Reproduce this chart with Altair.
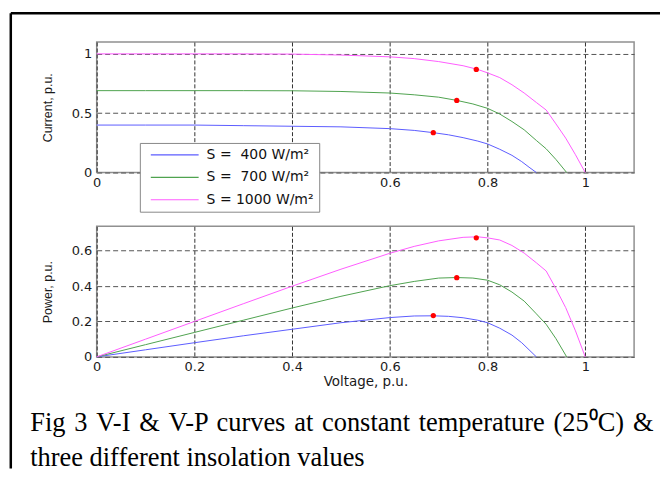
import altair as alt
import pandas as pd

# ---------------- data ----------------
series_names = ["S = \u00a0400 W/m\u00b2", "S = \u00a0700 W/m\u00b2", "S = 1000 W/m\u00b2"]
series_colors = ["#5c5cff", "#4fa34f", "#ff5cff"]

v_400 = [0, 0.1, 0.2, 0.3, 0.4, 0.5, 0.6, 0.65, 0.689, 0.72, 0.75, 0.78, 0.8, 0.825, 0.85, 0.87, 0.885, 0.9]
i_400 = [0.40, 0.40, 0.40, 0.395, 0.39, 0.385, 0.37, 0.355, 0.336, 0.318, 0.294, 0.265, 0.241, 0.196, 0.145, 0.092, 0.045, 0.0]
p_400 = [0, 0.04, 0.08, 0.119, 0.156, 0.193, 0.222, 0.231, 0.232, 0.229, 0.221, 0.207, 0.193, 0.162, 0.123, 0.08, 0.04, 0]

v_700 = [0, 0.1, 0.2, 0.3, 0.4, 0.5, 0.6, 0.65, 0.7, 0.737, 0.77, 0.8, 0.825, 0.85, 0.875, 0.9, 0.92, 0.94, 0.962]
i_700 = [0.69, 0.69, 0.69, 0.69, 0.689, 0.683, 0.67, 0.655, 0.635, 0.608, 0.578, 0.541, 0.493, 0.43, 0.36, 0.27, 0.2, 0.11, 0.0]
p_700 = [0, 0.069, 0.138, 0.207, 0.276, 0.342, 0.402, 0.426, 0.445, 0.448, 0.445, 0.433, 0.407, 0.366, 0.315, 0.243, 0.184, 0.103, 0]

v_1000 = [0, 0.1, 0.2, 0.3, 0.4, 0.5, 0.6, 0.65, 0.7, 0.75, 0.78, 0.8, 0.825, 0.85, 0.875, 0.9, 0.92, 0.94, 0.96, 0.98, 1.0]
i_1000 = [1.0, 1.0, 1.0, 1.0, 0.998, 0.99, 0.975, 0.96, 0.935, 0.9, 0.869, 0.84, 0.80, 0.74, 0.67, 0.59, 0.527, 0.41, 0.29, 0.15, 0.0]
p_1000 = [0, 0.1, 0.2, 0.3, 0.399, 0.495, 0.585, 0.624, 0.655, 0.675, 0.678, 0.672, 0.66, 0.629, 0.586, 0.531, 0.485, 0.385, 0.278, 0.147, 0]

mpp_v = [0.689, 0.737, 0.777]
mpp_i = [0.336, 0.608, 0.869]
mpp_p = [0.233, 0.447, 0.672]

x_ticks = [0, 0.2, 0.4, 0.6, 0.8, 1.0]
i_ticks = [0, 0.5, 1]
p_ticks = [0, 0.2, 0.4, 0.6]

caption_lines = [
    "Fig 3 V-I & V-P curves at constant temperature (25\u2070C) &",
    "three different insolation values",
]
# the printed first caption line is justified: widen its word gaps slightly
caption_first = caption_lines[0].replace(" ", " \u200a")

# ---------------- tables ----------------
rows = []
for name, vs, iss, ps in zip(series_names, [v_400, v_700, v_1000],
                             [i_400, i_700, i_1000], [p_400, p_700, p_1000]):
    for k, (v, i, p) in enumerate(zip(vs, iss, ps)):
        rows.append({"S": name, "V": v, "I": i, "P": p, "k": k})
df = pd.DataFrame(rows)
mpp = pd.DataFrame({"S": series_names, "V": mpp_v, "I": mpp_i, "P": mpp_p})

FONT = "DejaVu Sans"
TFONT = "Liberation Sans"
W, H = 539.3, 131

x_scale = alt.Scale(domain=[0, 1.1], nice=False, zero=False)


def x_axis(title):
    kw = dict(values=x_ticks, format="~g", grid=True, gridColor="#333333", gridDash=[4, 2],
              labelFlush=False, labelPadding=4, ticks=False, domain=False,
              labelFont=FONT, labelFontSize=13, labelColor="#1a1a1a")
    if title:
        kw.update(title=title, titleFont=FONT, titleFontSize=13.5, titleFontWeight="normal",
                  titleColor="#1a1a1a", titleX=W / 2, titleY=25, titleBaseline="middle",
                  titleAlign="center")
    else:
        kw.update(title=None)
    return alt.Axis(**kw)


def y_axis(values, title):
    return alt.Axis(values=values, format="~g", grid=True, gridColor="#555555", gridDash=[5, 3],
                    labelFlush=False, labelPadding=5, ticks=False, domain=False,
                    labelFont=FONT, labelFontSize=13, labelColor="#1a1a1a",
                    title=title, titleFont=TFONT, titleFontSize=12.5, titleFontWeight="normal",
                    titleColor="#1a1a1a", titleX=-49.5, titleY=H / 2, titleAngle=-90,
                    titleBaseline="middle", titleAlign="center")


color_scale = alt.Scale(domain=series_names, range=series_colors)
legend = alt.Legend(title=None, orient="none", legendX=43.3, legendY=101.3,
                    symbolType="stroke", symbolSize=2304, symbolStrokeWidth=1.2,
                    clipHeight=14, rowPadding=8.5, padding=5, symbolOffset=5,
                    labelOffset=7, labelFont=FONT, labelFontSize=14, labelColor="#111111",
                    labelExpr="datum.label + '\u00a0'",
                    fillColor="white", strokeColor="#888888", cornerRadius=0, labelLimit=300)

xa_top = x_axis(None)
ya_top = y_axis(i_ticks, "Current, p.u.")
xa_bot = x_axis("Voltage, p.u.")
ya_bot = y_axis(p_ticks, "Power, p.u.")
i_scale = alt.Scale(domain=[0, 1.1], nice=False, zero=False)
p_scale = alt.Scale(domain=[0, 0.737], nice=False, zero=False)

# ---------------- top panel: V-I ----------------
lines_top = alt.Chart(df).mark_line(strokeWidth=1).encode(
    x=alt.X("V:Q", scale=x_scale, axis=xa_top),
    y=alt.Y("I:Q", scale=i_scale, axis=ya_top),
    color=alt.Color("S:N", scale=color_scale, sort=series_names, legend=legend),
    order="k:Q",
)
dots_top = alt.Chart(mpp).mark_circle(color="#ff0000", size=28, opacity=1).encode(
    x=alt.X("V:Q", scale=x_scale, axis=xa_top),
    y=alt.Y("I:Q", scale=i_scale, axis=ya_top),
)

frame_df = pd.DataFrame({"k": [0]})
border_left = alt.Chart(frame_df).mark_rule(color="black", strokeWidth=2.5).encode(
    x=alt.value(-86.2), y=alt.value(-28.9), y2=alt.value(428)
)
border_top = alt.Chart(frame_df).mark_rule(color="black", strokeWidth=2.5).encode(
    x=alt.value(-86.2), x2=alt.value(565.3), y=alt.value(-28.9)
)

top = alt.layer(border_left, border_top, lines_top, dots_top).properties(width=W, height=H)

# ---------------- bottom panel: V-P ----------------
lines_bot = alt.Chart(df).mark_line(strokeWidth=1).encode(
    x=alt.X("V:Q", scale=x_scale, axis=xa_bot),
    y=alt.Y("P:Q", scale=p_scale, axis=ya_bot),
    color=alt.Color("S:N", scale=color_scale, sort=series_names, legend=None),
    order="k:Q",
)
dots_bot = alt.Chart(mpp).mark_circle(color="#ff0000", size=28, opacity=1).encode(
    x=alt.X("V:Q", scale=x_scale, axis=xa_bot),
    y=alt.Y("P:Q", scale=p_scale, axis=ya_bot),
)
cap1 = alt.Chart(pd.DataFrame({"t": [caption_first]})).mark_text(
    align="left", baseline="alphabetic", font="Liberation Serif", fontSize=26.5, color="black"
).encode(x=alt.value(-66.7), y=alt.value(205.3), text="t:N")
cap2 = alt.Chart(pd.DataFrame({"t": [caption_lines[1]]})).mark_text(
    align="left", baseline="alphabetic", font="Liberation Serif", fontSize=26.5, color="black"
).encode(x=alt.value(-66.7), y=alt.value(240), text="t:N")

bottom = alt.layer(lines_bot, dots_bot, cap1, cap2).properties(width=W, height=H)

chart = alt.vconcat(top, bottom, spacing=54, bounds="flush").resolve_legend(
    color="independent"
).configure_view(
    stroke="#909090", strokeWidth=1.5
).properties(
    padding={"left": 0, "top": 2.3, "right": 0, "bottom": 0},
    background="white",
)

chart.save("out.html", embed_options={"renderer": "svg", "actions": False})
